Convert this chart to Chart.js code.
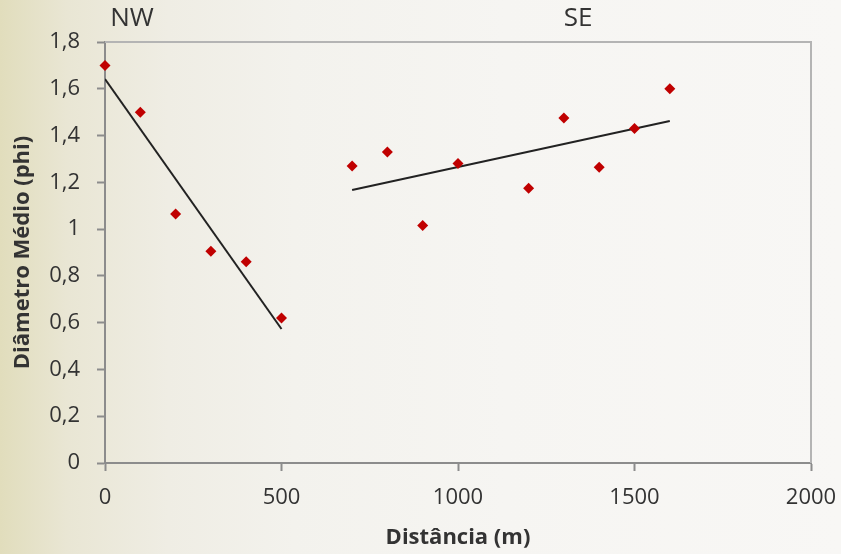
<!DOCTYPE html>
<html lang="pt">
<head>
    <meta charset="UTF-8">
    <title>Diâmetro Médio x Distância</title>
    <script src="https://cdn.jsdelivr.net/npm/chart.js"></script>
    <style>
        html, body {
            margin: 0;
            padding: 0;
        }
        body {
            width: 841px;
            height: 554px;
            overflow: hidden;
            background: linear-gradient(to right, #e1ddbc 0%, #e9e6d4 8%, #efede4 20%, #f3f2ed 35%, #f6f5f2 60%, #f8f7f5 100%);
        }
        canvas {
            display: block;
        }
    </style>
</head>
<body>
    <canvas id="grafico" width="841" height="554"></canvas>

    <script>
        // Dados
        const distNW = [0, 100, 200, 300, 400, 500];
        const diamNW = [1.70, 1.50, 1.065, 0.905, 0.86, 0.62];

        const distSE = [700, 800, 900, 1000, 1200, 1300, 1400, 1500, 1600];
        const diamSE = [1.27, 1.33, 1.015, 1.28, 1.175, 1.475, 1.265, 1.43, 1.60];

        // Linhas de tendência (extremos)
        const trendNWx = [0, 500];
        const trendNWy = [1.642, 0.573];
        const trendSEx = [700, 1600];
        const trendSEy = [1.167, 1.462];

        const regioes = ['NW', 'SE'];

        const pares = (xs, ys) => xs.map((x, i) => ({ x: x, y: ys[i] }));

        const corTexto = '#333333';
        const corEixo = '#8c8c8c';
        const fonte = "'Open Sans', sans-serif";

        // Borda do topo/direita e rótulos NW / SE
        const extras = {
            id: 'extras',
            beforeDatasetsDraw(chart) {
                const { ctx, chartArea } = chart;
                ctx.save();
                ctx.strokeStyle = '#b4b4b4';
                ctx.lineWidth = 2;
                ctx.beginPath();
                ctx.moveTo(chartArea.left, chartArea.top);
                ctx.lineTo(chartArea.right, chartArea.top);
                ctx.lineTo(chartArea.right, chartArea.bottom);
                ctx.stroke();
                ctx.restore();
            },
            afterDraw(chart) {
                const ctx = chart.ctx;
                ctx.save();
                ctx.fillStyle = corTexto;
                ctx.font = "26px 'Open Sans', sans-serif";
                ctx.textAlign = 'center';
                ctx.textBaseline = 'alphabetic';
                ctx.fillText(regioes[0], 132, 26);
                ctx.fillText(regioes[1], 578, 26);
                ctx.restore();
            }
        };

        new Chart(document.getElementById('grafico'), {
            type: 'scatter',
            data: {
                datasets: [
                    {
                        label: 'NW',
                        data: pares(distNW, diamNW),
                        pointStyle: 'rectRot',
                        pointRadius: 5.5,
                        backgroundColor: '#c00000',
                        borderColor: '#c00000',
                        borderWidth: 0,
                        clip: false
                    },
                    {
                        label: 'SE',
                        data: pares(distSE, diamSE),
                        pointStyle: 'rectRot',
                        pointRadius: 5.5,
                        backgroundColor: '#c00000',
                        borderColor: '#c00000',
                        borderWidth: 0,
                        clip: false
                    },
                    {
                        label: 'Tendência NW',
                        data: pares(trendNWx, trendNWy),
                        showLine: true,
                        pointRadius: 0,
                        borderColor: '#222222',
                        borderWidth: 2
                    },
                    {
                        label: 'Tendência SE',
                        data: pares(trendSEx, trendSEy),
                        showLine: true,
                        pointRadius: 0,
                        borderColor: '#222222',
                        borderWidth: 2
                    }
                ]
            },
            options: {
                responsive: false,
                animation: false,
                layout: {
                    padding: { top: 42, right: 30, left: 0, bottom: 0 }
                },
                plugins: {
                    legend: { display: false },
                    tooltip: { enabled: false }
                },
                scales: {
                    x: {
                        type: 'linear',
                        min: 0,
                        max: 2000,
                        ticks: {
                            stepSize: 500,
                            padding: 14,
                            color: corTexto,
                            font: { family: fonte, size: 22 },
                            callback: (v) => String(v)
                        },
                        grid: {
                            drawOnChartArea: false,
                            tickLength: 8,
                            tickColor: corEixo,
                            tickWidth: 2
                        },
                        border: { display: true, color: corEixo, width: 2 },
                        title: {
                            display: true,
                            text: 'Distância (m)',
                            color: corTexto,
                            font: { family: fonte, size: 22, weight: 'bold' },
                            padding: { top: 0, bottom: 3 }
                        },
                        afterFit(scale) {
                            scale.height = 91;
                            scale.paddingLeft = 0;
                            scale.paddingRight = 0;
                        }
                    },
                    y: {
                        min: 0,
                        max: 1.8,
                        ticks: {
                            stepSize: 0.2,
                            padding: 17,
                            color: corTexto,
                            font: { family: fonte, size: 22 },
                            callback: (v) => (Math.round(v * 10) / 10).toString().replace('.', ',')
                        },
                        grid: {
                            drawOnChartArea: false,
                            tickLength: 8,
                            tickColor: corEixo,
                            tickWidth: 2
                        },
                        border: { display: true, color: corEixo, width: 2 },
                        title: {
                            display: true,
                            text: 'Diâmetro Médio (phi)',
                            color: corTexto,
                            font: { family: fonte, size: 22, weight: 'bold' },
                            padding: { top: 10, bottom: 0 }
                        },
                        afterFit(scale) {
                            scale.width = 105;
                            scale.paddingTop = 0;
                            scale.paddingBottom = 0;
                        }
                    }
                }
            },
            plugins: [extras]
        });
    </script>
</body>
</html>
